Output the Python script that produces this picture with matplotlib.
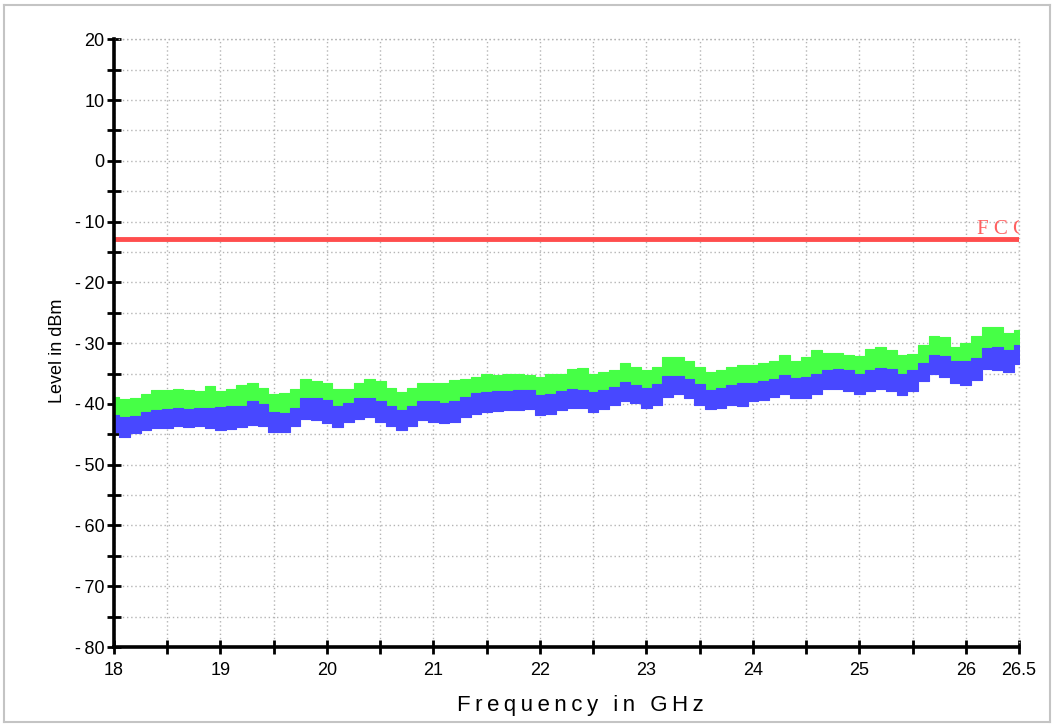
import numpy as np
import matplotlib
matplotlib.use("Agg")
import matplotlib.pyplot as plt
from matplotlib.lines import Line2D

# ---- data ----
freq_ghz = [18.0, 18.1, 18.2, 18.3, 18.4, 18.5, 18.6, 18.7, 18.8, 18.9,
            19.0, 19.1, 19.2, 19.3, 19.4, 19.5, 19.6, 19.7, 19.8, 19.9,
            20.0, 20.1, 20.2, 20.3, 20.4, 20.5, 20.6, 20.7, 20.8, 20.9,
            21.0, 21.1, 21.2, 21.3, 21.4, 21.5, 21.6, 21.7, 21.8, 21.9,
            22.0, 22.1, 22.2, 22.3, 22.4, 22.5, 22.6, 22.7, 22.8, 22.9,
            23.0, 23.1, 23.2, 23.3, 23.4, 23.5, 23.6, 23.7, 23.8, 23.9,
            24.0, 24.1, 24.2, 24.3, 24.4, 24.5, 24.6, 24.7, 24.8, 24.9,
            25.0, 25.1, 25.2, 25.3, 25.4, 25.5, 25.6, 25.7, 25.8, 25.9,
            26.0, 26.1, 26.2, 26.3, 26.4, 26.5]

# peak trace (green) upper envelope
peak_max = [-38.8, -39.2, -39.1, -38.4, -37.7, -37.7, -37.6, -37.7, -37.9, -37.0,
            -37.8, -37.6, -36.9, -36.5, -37.3, -38.4, -38.2, -37.6, -35.9, -36.2,
            -36.5, -37.6, -37.6, -36.5, -35.9, -36.3, -37.4, -38.0, -37.3, -36.5,
            -36.6, -36.5, -36.1, -35.9, -35.5, -35.1, -35.2, -35.0, -35.0, -35.2,
            -35.5, -35.1, -35.0, -34.3, -34.1, -35.1, -34.7, -34.4, -33.2, -34.0,
            -34.4, -33.9, -32.3, -32.3, -32.9, -33.9, -34.7, -34.5, -33.9, -33.6,
            -33.6, -33.2, -32.9, -31.95, -32.9, -32.2, -31.1, -31.7, -31.7, -32.0,
            -32.1, -31.0, -30.6, -31.2, -32.0, -31.8, -30.3, -28.8, -29.0, -30.6,
            -30.0, -28.9, -27.3, -27.3, -28.4, -27.8]

# average trace (blue) upper envelope
avg_max = [-41.8, -42.1, -42.0, -41.3, -41.0, -40.9, -40.7, -40.8, -40.7, -40.7,
           -40.5, -40.3, -40.3, -39.6, -40.0, -41.3, -41.5, -40.7, -39.1, -39.1,
           -39.3, -40.4, -39.8, -39.1, -39.1, -39.6, -40.4, -41.0, -40.4, -39.5,
           -39.6, -39.9, -39.6, -38.8, -38.2, -38.0, -37.9, -37.8, -37.7, -37.7,
           -38.5, -38.4, -37.8, -37.5, -37.7, -38.1, -37.7, -37.2, -36.4, -36.9,
           -37.4, -36.7, -35.4, -35.35, -35.95, -36.7, -37.7, -37.4, -36.9, -36.6,
           -36.6, -36.3, -35.95, -35.2, -35.7, -35.5, -35.0, -34.5, -34.2, -34.5,
           -35.1, -34.4, -34.1, -34.3, -35.1, -34.5, -33.2, -31.95, -32.1, -32.9,
           -33.0, -32.5, -30.85, -30.6, -31.1, -30.3]

# average trace (blue) lower envelope
avg_min = [-44.6, -45.4, -44.8, -44.3, -44.0, -43.9, -43.7, -43.8, -43.6, -44.0,
           -44.3, -44.2, -43.8, -43.5, -43.7, -44.7, -44.6, -43.7, -42.4, -42.6,
           -43.2, -43.8, -42.9, -42.4, -42.2, -42.9, -43.7, -44.3, -43.7, -42.7,
           -42.9, -43.1, -42.9, -42.2, -41.6, -41.4, -41.1, -41.0, -41.0, -40.9,
           -41.8, -41.6, -41.0, -40.7, -40.6, -41.4, -40.9, -40.2, -39.5, -39.9,
           -40.7, -40.2, -38.8, -38.4, -39.1, -40.2, -40.9, -40.7, -40.2, -40.3,
           -39.6, -39.35, -38.9, -38.3, -39.1, -39.1, -38.4, -37.6, -37.5, -37.8,
           -38.3, -37.9, -37.6, -37.8, -38.5, -37.8, -36.3, -35.1, -35.6, -36.6,
           -36.9, -36.1, -34.3, -34.4, -34.7, -33.4]

fcc_limit_dbm = -12.8
fcc_label = "F C C"

x_ticks = [18, 18.5, 19, 19.5, 20, 20.5, 21, 21.5, 22, 22.5, 23, 23.5,
           24, 24.5, 25, 25.5, 26, 26.5]
x_labels = ["18", "", "19", "", "20", "", "21", "", "22", "", "23", "",
            "24", "", "25", "", "26", "26.5"]
y_major = [20, 10, 0, -10, -20, -30, -40, -50, -60, -70, -80]
y_minor = [15, 5, -5, -15, -25, -35, -45, -55, -65, -75]

# ---- figure ----
W, H = 1055, 725
fig = plt.figure(figsize=(W / 100, H / 100), dpi=100)
fig.patch.set_facecolor("white")

x0, x1, yt, yb = 114, 1019, 39.3, 647
ax = fig.add_axes([x0 / W, 1 - yb / H, (x1 - x0) / W, (yb - yt) / H])
ax.set_xlim(18, 26.5)
ax.set_ylim(-80, 20)

f = np.array(freq_ghz)
ax.fill_between(f, np.array(avg_max), np.array(peak_max), color="#46ff46",
                linewidth=0.8, edgecolor="#46ff46", zorder=3, step="mid")
ax.fill_between(f, np.array(avg_min), np.array(avg_max), color="#4848ff",
                linewidth=0.8, edgecolor="#4848ff", zorder=4, step="mid")

ax.axhline(fcc_limit_dbm, color="#ff4d4d", linewidth=3.5, zorder=5)
ax.text(26.11, fcc_limit_dbm + 0.7, fcc_label, color="#ff6060",
        fontsize=15, family="Liberation Serif", ha="left", va="baseline",
        clip_on=True, zorder=6)

for s in ["top", "right"]:
    ax.spines[s].set_visible(False)
for s in ["left", "bottom"]:
    ax.spines[s].set_linewidth(2.6)
    ax.spines[s].set_zorder(10)

ax.set_xticks(x_ticks)
ax.set_xticklabels(x_labels)
ax.set_yticks(y_major)
ax.set_yticklabels([("-\u2009" + str(-v)) if v < 0 else str(v) for v in y_major])
ax.set_yticks(y_minor, minor=True)
ax.tick_params(axis="both", which="both", direction="inout", length=10,
               width=2, color="black", labelsize=13)
ax.tick_params(axis="x", pad=6)
ax.tick_params(axis="y", pad=2)
for lab in ax.get_xticklabels() + ax.get_yticklabels():
    lab.set_family("Liberation Sans")

grid_c = "#b4b4b4"
ax.grid(True, which="both", color=grid_c, linestyle=(0, (1, 2)),
        linewidth=1.0, zorder=1)
ax.set_axisbelow(True)
ax.axhline(20, color=grid_c, linestyle=(0, (1, 2)), linewidth=1.0, zorder=1,
           clip_on=False)
ax.axvline(26.5, color=grid_c, linestyle=(0, (1, 2)), linewidth=1.0, zorder=1,
           clip_on=False)

# axis labels
fig.text(58 / W, 1 - 351 / H, "Level in dBm", rotation=90, ha="center",
         va="center", fontsize=13, family="Liberation Sans")
fig.text(580 / W, 1 - 706 / H, "\u2009".join("Frequency in GHz"), ha="center",
         va="center", fontsize=16, family="Liberation Sans")

# outer frame
frame_c = "#c4c4c4"
for xs, ys in [([4, 4], [5, 722]), ([4, 1050], [5, 5]), ([4, 1050], [722, 722]),
               ([1050, 1050], [5, 722])]:
    fig.add_artist(Line2D([v / W for v in xs], [1 - v / H for v in ys],
                          color=frame_c, linewidth=1.5, transform=fig.transFigure))

fig.savefig("out.png", dpi=100, facecolor="white")
